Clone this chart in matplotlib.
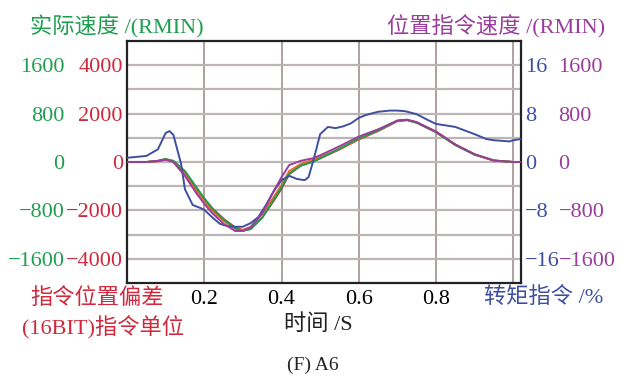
import matplotlib.pyplot as plt

plt.rcParams['font.family'] = ['Liberation Serif', 'Noto Sans CJK SC']

GREEN = '#1f9e50'
RED = '#d0283c'
BLUE = '#3f4f9f'
PURPLE = '#9a3d9c'
ORANGE = '#ec6a24'

# time base for the speed / deviation curves (s)
t = [0, 0.05, 0.08, 0.1, 0.12, 0.15, 0.18, 0.2, 0.22, 0.25, 0.28, 0.3, 0.32,
     0.35, 0.38, 0.4, 0.42, 0.45, 0.48, 0.5, 0.55, 0.6, 0.65, 0.7, 0.725,
     0.75, 0.8, 0.85, 0.9, 0.95, 1.0, 1.02]

# actual speed (r/min)
speed_actual = [0, 0, 20, 50, 20, -150, -420, -600, -760, -950, -1090, -1140,
                -1110, -920, -620, -420, -190, -60, 0, 60, 220, 390, 520, 680,
                695, 650, 490, 280, 120, 25, 0, 0]
# command speed (r/min)
speed_cmd = [0, 0, 20, 40, 0, -230, -520, -690, -840, -1020, -1140, -1140,
             -1080, -850, -480, -250, -50, 20, 60, 110, 260, 420, 540, 685,
             700, 660, 500, 290, 125, 25, 0, 0]
# position deviation (16bit command units)
pos_err = [0, 0, 30, 100, 30, -420, -1100, -1520, -1900, -2350, -2700, -2820,
           -2760, -2300, -1600, -1100, -500, -150, 20, 150, 520, 930, 1280,
           1690, 1730, 1630, 1260, 720, 320, 60, 0, 0]
pos_err2 = [0, 0, 40, 120, 0, -500, -1200, -1600, -2000, -2430, -2760, -2800,
            -2680, -2140, -1440, -950, -370, -80, 80, 200, 540, 950, 1300,
            1710, 1740, 1620, 1240, 700, 310, 55, 0, 0]

# torque command (%)
t_torque = [0, 0.05, 0.08, 0.1, 0.11, 0.12, 0.14, 0.15, 0.17, 0.19, 0.2, 0.22,
            0.24, 0.26, 0.28, 0.3, 0.32, 0.34, 0.36, 0.38, 0.4, 0.42, 0.44,
            0.46, 0.47, 0.48, 0.49, 0.5, 0.52, 0.54, 0.56, 0.58, 0.6, 0.62,
            0.65, 0.68, 0.7, 0.72, 0.75, 0.78, 0.8, 0.85, 0.9, 0.93, 0.95,
            0.97, 0.99, 1.0, 1.02]
torque = [0.7, 1.0, 2.1, 4.8, 5.1, 4.5, -0.3, -4.5, -7.1, -7.6, -7.9, -9.1,
          -10.2, -10.6, -10.7, -10.7, -10.1, -9.1, -7.1, -4.8, -3.0, -2.3,
          -2.8, -3.0, -2.5, -0.3, 2.1, 4.6, 5.8, 5.6, 5.9, 6.4, 7.3, 7.8, 8.3,
          8.5, 8.5, 8.4, 7.9, 6.9, 6.3, 5.8, 4.6, 3.8, 3.6, 3.5, 3.4, 3.6, 3.8]

fs = 16
fig = plt.figure(figsize=(6.22, 3.78), dpi=100)
ax = fig.add_axes([0.2042, 0.2513, 0.6334, 0.6402])

ax_g = ax.twinx()
ax_b = ax.twinx()
ax_p = ax.twinx()

ax.set_xlim(0, 1.02)
ax.set_ylim(-5000, 5000)
ax_g.set_ylim(-2000, 2000)
ax_b.set_ylim(-20, 20)
ax_p.set_ylim(-2000, 2000)

# grid
for x in [0.2, 0.4, 0.6, 0.8, 1.0]:
    ax.axvline(x, color='#a89a98', lw=1.3, zorder=0)
for y in range(-4000, 4001, 1000):
    ax.axhline(y, color='#bdb5b5', lw=1.6, zorder=0)

ax_b.plot(t_torque, torque, color=BLUE, lw=1.4)
ax_p.plot(t, speed_cmd, color=PURPLE, lw=1.4)
ax_g.plot(t, speed_actual, color=GREEN, lw=1.4)
ax.plot(t, pos_err, color=RED, lw=1.4, zorder=3)
ax.plot(t, pos_err2, color=ORANGE, lw=1.4, zorder=3)

ax.set_xticks([0.2, 0.4, 0.6, 0.8])
ax.set_xticklabels(['0.2', '0.4', '0.6', '0.8'])
ax.tick_params(axis='x', length=0, labelsize=fs, pad=5)

ax.set_yticks([-4000, -2000, 0, 2000, 4000])
ax.set_yticklabels(['−4000', '−2000', '0', '2000', '4000'])
ax.tick_params(axis='y', length=0, labelsize=fs, labelcolor=RED, pad=3)

ax_g.yaxis.set_ticks_position('left')
ax_g.set_yticks([-1600, -800, 0, 800, 1600])
ax_g.set_yticklabels(['−1600', '−800', '0', '800', '1600'])
ax_g.tick_params(axis='y', length=0, labelsize=fs, labelcolor=GREEN, pad=45)

ax_b.set_yticks([-16, -8, 0, 8, 16])
ax_b.set_yticklabels(['−16', '−8', '0', '8', '16'])
ax_b.tick_params(axis='y', length=0, labelsize=fs, labelcolor=BLUE, pad=3)

ax_p.set_yticks([-1600, -800, 0, 800, 1600])
ax_p.set_yticklabels(['−1600', '−800', '0', '800', '1600'])
ax_p.tick_params(axis='y', length=0, labelsize=fs, labelcolor=PURPLE, pad=27)

for a in (ax_g, ax_b, ax_p):
    for s in a.spines.values():
        s.set_visible(False)
for s in ax.spines.values():
    s.set_color('#222222')
    s.set_linewidth(1.6)

W, H = 622, 378
def px(x, y):
    return x / W, 1 - y / H

fig.text(*px(30, 27), '实际速度 /(RMIN)', color=GREEN, fontsize=fs,
         ha='left', va='center')
fig.text(*px(605, 27), '位置指令速度 /(RMIN)', color=PURPLE, fontsize=fs,
         ha='right', va='center')
fig.text(*px(30, 298), '指令位置偏差', color=RED, fontsize=fs,
         ha='left', va='center')
fig.text(*px(22, 328), '(16BIT)指令单位', color=RED, fontsize=fs,
         ha='left', va='center')
fig.text(*px(603, 298), '转矩指令 /%', color=BLUE, fontsize=fs,
         ha='right', va='center')
fig.text(*px(318, 325), '时间 /S', color='#222222', fontsize=fs,
         ha='center', va='center')
fig.text(*px(313, 365), '(F) A6', color='#222222', fontsize=14,
         ha='center', va='center')

fig.savefig('out.png', dpi=100, facecolor='white')
